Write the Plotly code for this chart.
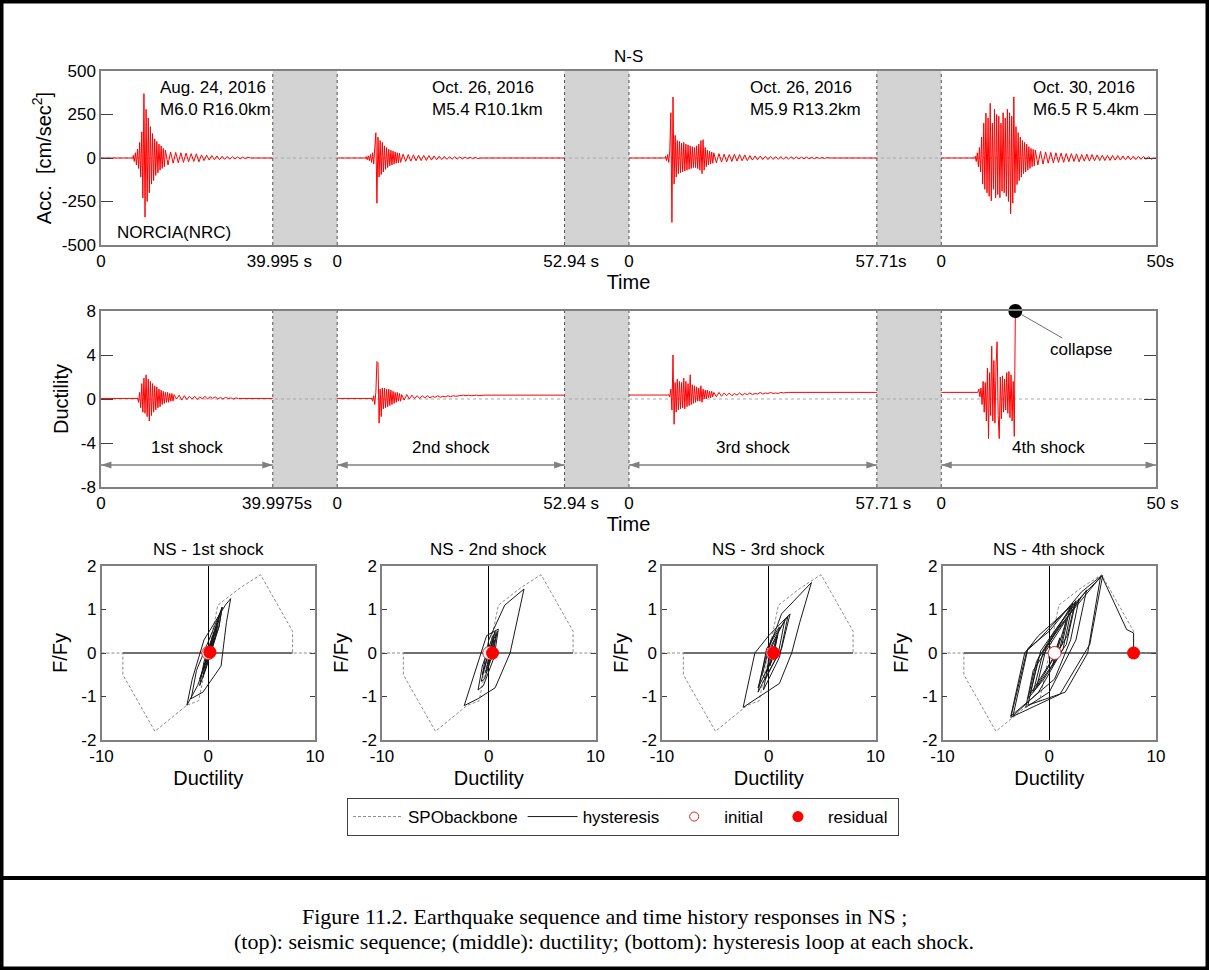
import plotly.graph_objects as go

W, H = 1209, 970
FONT = "Liberation Sans, Arial, Helvetica, sans-serif"
SERIF = "Liberation Serif, Times New Roman, serif"

# ======================= DATA =======================
# record lengths of the four shocks (s) and the blank gap drawn between them
seg_len_acc = [39.995, 52.94, 57.71, 50.0]
seg_len_duct = [39.9975, 52.94, 57.71, 50.0]
gap_s = 15.0
end_num_acc = ["39.995", "52.94", "57.71", "50"]
end_unit_acc = [" s", " s", "s", "s"]
end_num_duct = ["39.9975", "52.94", "57.71", "50"]
end_unit_duct = ["s", " s", " s", " s"]

event_dates = ["Aug. 24, 2016", "Oct. 26, 2016", "Oct. 26, 2016", "Oct. 30, 2016"]
event_info = ["M6.0 R16.0km", "M5.4 R10.1km", "M5.9 R13.2km", "M6.5 R 5.4km"]
event_label_t = [13.3, 21.6, 27.8, 21.0]
station_name = "NORCIA(NRC)"
shock_names = ["1st shock", "2nd shock", "3rd shock", "4th shock"]
hyst_titles = ["NS - 1st shock", "NS - 2nd shock", "NS - 3rd shock", "NS - 4th shock"]
legend_names = ["SPObackbone", "hysteresis", "initial", "residual"]

# ---- ground acceleration (cm/s^2): strong-motion extrema every 0.25 s, coda every 0.6 s
acc_onset = [7.5, 6.75, 8.5, 7.9]
acc_dt = 0.25
acc_tail_dt = 0.6
acc1 = [15, -20, 30, -40, 50, -60, 90, -110, 150, -230, 370, -340, 280, -250, 230, -200,
        180, -150, 140, -130, 110, -100, 95, -85, 80, -70, 70, -60, 55, -50, 45]
acc1_tail = [-40, 35, -30, 32, -28, 30, -25, 28, -22, 25, -20, 24, -22, 18, -15, 16, -12, 14,
             -10, 12, -10, 10, -8, 9, -7, 8, -6, 6, -5, 5, -4, 4]
acc2 = [8, -10, 12, -15, 20, -25, 30, -35, 60, 145, -260, 120, -110, 100, -95, 90, -80, 70,
        -65, 60, -55, 50, -45, 45, -40, 40, -35, 35, -30, 30, -28, 28, -25]
acc2_tail = [22, -20, 20, -18, 18, -16, 16, -15, 15, -14, 14, -12, 12, -10, 10, -9, 9, -8, 8,
             -7, 7, -6, 6, -5, 5, -4, 4, -4, 4, -3]
acc3 = [10, -15, 20, -25, 40, 260, -370, 350, -150, 130, -110, 100, -90, 95, -85, 85, -80, 90,
        -75, 80, -70, 75, -65, 70, -60, 65, -55, 60, -55, 70, -60, 80, -70, 100, -90, 105, -70,
        60, -50, 45, -40, 40, -35, 35, -30, 30]
acc3_tail = [-28, 25, -24, 22, -22, 20, -20, 22, -18, 20, -16, 18, -15, 14, -12, 12, -10, 11,
             -9, 10, -9, 9, -8, 8, -8, 8, -7, 7, -6, 7, -6, 6, -5, 5, -5, 5, -4, 4, -4, 4, -3, 3,
             -3, 3]
acc4 = [10, -20, 30, -50, 60, -80, 120, -150, 200, -180, 258, -200, 230, -220, 314, -246, 200,
        -180, 280, -230, 250, -210, 240, -228, 200, -190, 260, -200, 230, -220, 280, -250, 260,
        -321, 240, -260, 351, -200, 180, -153, 146, -130, 120, -110, 100, -90, 90, -80, 80, -70,
        65, -60, 55, -50, 50, -45, 45]
acc4_tail = [-40, 38, -35, 35, -30, 32, -28, 30, -25, 28, -25, 26, -22, 25, -20, 24, -22, 20,
             -18, 22, -18, 20, -16, 18, -15, 16, -15, 15, -14, 15, -12, 14, -12, 12, -10, 12,
             -10, 10, -9, 10, -8, 9, -8, 8, -7]

# ---- ductility response: extrema every 0.25 s, then slow drift every 0.6 s
duct_onset = [8.5, 8.0, 9.25, 8.5]
duct_initial = [0.05, 0.05, 0.36, 0.6]
duct_residual = [0.05, 0.35, 0.6, None]
duct1 = [0.1, -0.3, 0.6, -0.8, 1.4, -1.2, 1.9, -1.3, 2.2, -1.6, 1.8, -2.0, 1.6, -1.5, 1.4, -1.2,
         1.2, -1.0, 1.1, -0.8, 0.9, -0.7, 0.8, -0.5, 0.7, -0.4, 0.6, -0.3, 0.6, -0.3, 0.5, -0.2,
         0.5, -0.2, 0.4]
duct1_tail = [0.0, 0.35, -0.1, 0.3, -0.05, 0.25, 0.0, 0.25, -0.05, 0.2, 0.0, 0.25, 0.0, 0.2,
              0.05, 0.2, 0.0, 0.15, 0.0, 0.15, 0.05, 0.1, 0.0, 0.1]
duct2 = [0.1, -0.2, 0.3, -0.5, 0.6, 3.4, 3.3, -2.2, 0.9, -1.6, 1.0, -0.9, 1.0, -0.8, 0.9, -0.7,
         0.9, -0.6, 0.8, -0.5, 0.7, -0.4, 0.6, -0.3, 0.6, -0.2, 0.5, -0.2, 0.4]
duct2_tail = [-0.1, 0.4, 0.0, 0.35, 0.05, 0.3, 0.05, 0.3, 0.1, 0.3, 0.1, 0.25, 0.15, 0.3, 0.15,
              0.25, 0.2, 0.3, 0.2, 0.3, 0.25, 0.3, 0.3, 0.35, 0.3, 0.35, 0.3, 0.35, 0.35, 0.3,
              0.35]
duct3 = [0.4, 0.2, 0.9, -1.0, 4.0, -2.3, 1.5, -1.2, 1.8, -1.0, 1.6, -0.9, 1.5, -0.8, 1.9, -0.9,
         1.6, -0.7, 1.4, -0.6, 2.2, -0.5, 1.3, -0.4, 1.2, -0.3, 1.1, -0.2, 1.0, -0.2, 1.2, -0.3,
         0.9, 0.0, 0.8, 0.0, 0.8, 0.1, 0.7, 0.1, 0.7, 0.2, 0.6]
duct3_tail = [0.2, 0.6, 0.25, 0.55, 0.3, 0.55, 0.3, 0.5, 0.35, 0.55, 0.35, 0.5, 0.4, 0.55, 0.4,
              0.5, 0.45, 0.6, 0.45, 0.55, 0.5, 0.6, 0.5, 0.55, 0.5, 0.6, 0.55, 0.6]
duct4 = [0.6, 0.9, 0.2, 1.0, -0.5, 1.6, -1.2, 1.5, -2.0, 2.8, -3.6, 2.4, -1.5, 4.8, -2.0, 3.5,
         -2.2, 3.0, 5.2, -1.5, -3.6, 2.0, -1.8, 2.1, -1.2, 1.8, -1.0, 2.4, -1.3, 2.5, -1.7, 2.2,
         -2.0, 1.6, -3.4, 8.0]
collapse_t = 17.25
collapse_mu = 8.0
shock_arrow_mu = -6.0
shock_label_mu = -4.45

# ---- SPO backbone (ductility, F/Fy)
spo_mu = [-10, -8, -8, -5, -2, -0.9, 0, 0.9, 3, 4.9, 7.9, 7.9, 10]
spo_f = [0, 0, -0.5, -1.8, -1.2, -1.1, 0, 1.1, 1.5, 1.8, 0.5, 0, 0]

# ---- hysteresis paths (ductility, F/Fy)
hyst1_mu = [0, 0.5, -0.3, 0.8, -0.5, 1.1, 0.7, -0.8, 1.3, 1.0, -1.0, -2.0, -1.5, -0.4, 1.6, 2.1,
            1.7, 1.2, -0.5, -1.6, -1.1, 0.4, 1.3, 1.0, -0.2, -0.8, -0.4, 0.9, 0.6, -0.5, -0.2,
            0.7, 0.4, -0.3, 0.0, 0.5, 0.2, -0.1, 0.3, 0.15]
hyst1_f = [0, 0.35, -0.25, 0.6, -0.4, 0.9, 0.4, -0.6, 1.05, 0.6, -0.75, -1.2, -0.6, 0.3, 1.1,
           1.25, 0.7, -0.3, -0.9, -1.05, -0.4, 0.5, 1.05, 0.6, -0.35, -0.75, -0.2, 0.75, 0.3,
           -0.55, -0.1, 0.6, 0.2, -0.4, -0.05, 0.4, 0.05, -0.2, 0.2, 0.02]
hyst2_mu = [0.05, 0.4, -0.3, 0.6, -0.6, 0.0, 1.5, 3.3, 2.0, 0.6, -1.0, -2.3, -1.4, -0.2, 0.9,
            0.5, -0.5, -1.0, -0.6, 0.4, 0.8, 0.4, -0.4, -0.7, 0.0, 0.7, 0.3, -0.3, 0.0, 0.5,
            0.2, -0.1, 0.4, 0.35]
hyst2_f = [0.0, 0.3, -0.3, 0.5, -0.5, 0.3, 1.1, 1.47, 0.0, -0.8, -1.05, -1.21, -0.5, 0.4, 0.55,
           -0.1, -0.75, -0.85, -0.3, 0.4, 0.5, 0.0, -0.6, -0.65, 0.05, 0.45, -0.05, -0.45, -0.1,
           0.3, -0.1, -0.3, 0.15, 0.0]
hyst3_mu = [0.36, 0.8, 0.0, -1.0, -0.3, 1.2, 4.0, 2.9, 2.15, 1.0, -2.4, -1.3, 0.0, 2.0, 1.2,
            -0.6, -1.0, -0.2, 1.8, 1.0, -0.5, 0.3, 1.5, 0.9, -0.3, -0.6, 0.2, 1.0, 0.5, -0.2,
            0.2, 0.8, 0.4, 0.1, 0.5, 0.45]
hyst3_f = [0.0, 0.4, -0.3, -0.8, -0.1, 0.9, 1.62, 0.7, 0.0, -0.7, -1.25, 0.0, 0.4, 0.9, 0.1,
           -0.7, -0.9, 0.1, 0.85, -0.1, -0.85, 0.2, 0.75, 0.0, -0.6, -0.5, 0.3, 0.6, 0.0, -0.45,
           0.1, 0.4, -0.1, -0.3, 0.1, 0.0]
hyst4_mu = [0.5, 1.0, 0.3, 1.6, 0.8, -0.5, -2.0, -1.2, 0.5, 2.8, 2.0, 0.5, -3.6, -2.3, -1.0,
            2.4, 1.7, -1.5, -0.6, 0.6, 4.8, 3.6, 1.5, -2.0, -1.0, 3.5, 2.5, 0.0, -2.2, -1.5,
            3.0, 5.0, 3.8, 1.0, -3.6, -2.1, -1.0, 2.0, 1.2, -1.8, -0.8, 2.5, 1.6, -1.2, -0.3,
            2.2, 1.3, -1.0, -3.4, -2.0, 0.0, 3.0, 4.9, 7.25, 7.9, 7.9]
hyst4_f = [0.0, 0.35, -0.3, 0.75, -0.1, -0.6, -1.05, -0.2, 0.5, 1.25, 0.3, -0.6, -1.45, 0.0,
           0.4, 1.15, 0.4, -0.9, 0.0, 0.5, 1.75, 0.0, -0.9, -1.2, -0.1, 1.45, 0.3, -0.9, -1.25,
           -0.4, 1.3, 1.78, 0.2, -0.95, -1.48, 0.05, 0.3, 1.1, 0.2, -0.95, 0.05, 1.2, 0.2, -0.8,
           0.1, 1.15, 0.1, -0.9, -1.45, 0.1, 0.5, 1.4, 1.78, 0.54, 0.46, 0.0]
hyst_initial_mu = [0.0, 0.05, 0.36, 0.5]
hyst_initial_f = [0.0, 0.0, 0.0, 0.0]
hyst_residual_mu = [0.15, 0.35, 0.45, 7.9]
hyst_residual_f = [0.02, 0.0, 0.0, 0.0]

caption_1 = "Figure 11.2. Earthquake sequence and time history responses in NS ;"
caption_2 = "(top): seismic sequence; (middle): ductility; (bottom): hysteresis loop at each shock."

# ======================= LAYOUT GEOMETRY (pixels) =======================
PX_L, PX_R = 101, 1156
TOP_Y = (71, 245)
MID_Y = (311, 487)
HYS_Y = (566, 740)
HYS_LEFT = [101.5, 382, 662, 942.5]
HYS_W = 213.5
FRAME = "#808080"
RED = "#ff0000"
NB = "\u00a0"


def fx(p):
    return p / W


def fy(p):
    return 1 - p / H


def offsets(lengths):
    out, s = [], 0.0
    for L in lengths:
        out.append(s)
        s += L + gap_s
    return out


off_a = offsets(seg_len_acc)
off_d = offsets(seg_len_duct)
xmax_a = off_a[-1] + seg_len_acc[-1]
xmax_d = off_d[-1] + seg_len_duct[-1]


def build_series(onset, strong, tail, length, v0, v_end, dt, tail_dt):
    t = [0.0, onset]
    v = [v0, v0]
    for k, a in enumerate(strong):
        t.append(onset + k * dt)
        v.append(a)
    last = onset + (len(strong) - 1) * dt
    if tail is None:
        return t, v
    for k, a in enumerate(tail):
        t.append(last + (k + 1) * tail_dt)
        v.append(a)
    last = t[-1]
    t += [last + tail_dt, length]
    v += [v_end, v_end]
    return t, v


fig = go.Figure()

# ---------------- top: acceleration ----------------
acc_strong = [acc1, acc2, acc3, acc4]
acc_tails = [acc1_tail, acc2_tail, acc3_tail, acc4_tail]
for i in range(4):
    t, v = build_series(acc_onset[i], acc_strong[i], acc_tails[i], seg_len_acc[i],
                        0, 0, acc_dt, acc_tail_dt)
    fig.add_trace(go.Scatter(x=[off_a[i] + tt for tt in t], y=v, mode="lines",
                             line=dict(color=RED, width=1), xaxis="x", yaxis="y",
                             showlegend=False, hoverinfo="skip"))

# ---------------- middle: ductility ----------------
duct_strong = [duct1, duct2, duct3, duct4]
duct_tails = [duct1_tail, duct2_tail, duct3_tail, None]
for i in range(4):
    t, v = build_series(duct_onset[i], duct_strong[i], duct_tails[i], seg_len_duct[i],
                        duct_initial[i], duct_residual[i], acc_dt, acc_tail_dt)
    fig.add_trace(go.Scatter(x=[off_d[i] + tt for tt in t], y=v, mode="lines",
                             line=dict(color=RED, width=1), xaxis="x2", yaxis="y2",
                             showlegend=False, hoverinfo="skip"))
fig.add_trace(go.Scatter(x=[off_d[3] + collapse_t], y=[collapse_mu], mode="markers",
                         marker=dict(color="black", size=14), xaxis="x2", yaxis="y2",
                         cliponaxis=False, showlegend=False, hoverinfo="skip"))
# double-headed span arrows under each shock
for i in range(4):
    fig.add_trace(go.Scatter(x=[off_d[i], off_d[i] + seg_len_duct[i]],
                             y=[shock_arrow_mu, shock_arrow_mu], mode="lines+markers",
                             line=dict(color="#808080", width=1.5),
                             marker=dict(symbol="arrow", angle=[-90, 90], size=11,
                                         color="#808080"),
                             xaxis="x2", yaxis="y2", cliponaxis=False, showlegend=False,
                             hoverinfo="skip"))

# ---------------- bottom: hysteresis ----------------
hyst_mu = [hyst1_mu, hyst2_mu, hyst3_mu, hyst4_mu]
hyst_f = [hyst1_f, hyst2_f, hyst3_f, hyst4_f]
for k in range(4):
    xa, ya = f"x{k + 3}", f"y{k + 3}"
    fig.add_trace(go.Scatter(x=spo_mu, y=spo_f, mode="lines", name=legend_names[0],
                             legendgroup="spo", showlegend=(k == 0), legendrank=1,
                             line=dict(color="#8c8c8c", width=1, dash="3px,2px"),
                             xaxis=xa, yaxis=ya, hoverinfo="skip"))
    fig.add_trace(go.Scatter(x=hyst_mu[k], y=hyst_f[k], mode="lines", name=legend_names[1],
                             legendgroup="hys", showlegend=(k == 0), legendrank=2,
                             line=dict(color="#1a1a1a", width=1),
                             xaxis=xa, yaxis=ya, hoverinfo="skip"))
    fig.add_trace(go.Scatter(x=[hyst_initial_mu[k]], y=[hyst_initial_f[k]], mode="markers",
                             legendgroup="ini", showlegend=False,
                             marker=dict(color="white", size=13,
                                         line=dict(color="#e02020", width=1)),
                             xaxis=xa, yaxis=ya, hoverinfo="skip"))
    fig.add_trace(go.Scatter(x=[hyst_residual_mu[k]], y=[hyst_residual_f[k]], mode="markers",
                             legendgroup="res", showlegend=False,
                             marker=dict(color=RED, size=13),
                             xaxis=xa, yaxis=ya, cliponaxis=False, hoverinfo="skip"))
# legend entries for the two marker kinds (smaller symbols as in the legend box)
fig.add_trace(go.Scatter(x=[None], y=[None], mode="markers", name=legend_names[2],
                         legendgroup="ini", legendrank=3,
                         marker=dict(color="white", size=9, line=dict(color="#e02020", width=1)),
                         xaxis="x3", yaxis="y3"))
fig.add_trace(go.Scatter(x=[None], y=[None], mode="markers", name=legend_names[3] + NB,
                         legendgroup="res", legendrank=4, marker=dict(color=RED, size=11),
                         xaxis="x3", yaxis="y3"))


# ---------------- axes ----------------
def time_ticks(offs, lengths, nums, units):
    tv, tt = [], []
    for o, L, n, u in zip(offs, lengths, nums, units):
        u2 = u.replace(" ", NB)
        tv += [o, o + L]
        tt += ["0", f'<span style="color:rgba(0,0,0,0)">{u2}</span>{n}{u2}']
    return tv, tt


tv_a, tt_a = time_ticks(off_a, seg_len_acc, end_num_acc, end_unit_acc)
tv_d, tt_d = time_ticks(off_d, seg_len_duct, end_num_duct, end_unit_duct)

common_x = dict(showgrid=False, zeroline=False, showline=True, linecolor=FRAME, linewidth=1.5,
                mirror=True, ticks="", tickfont=dict(size=17), automargin=False)
common_y = dict(showgrid=False, zeroline=False, showline=True, linecolor=FRAME, linewidth=1.5,
                mirror="ticks", ticks="inside", tickcolor="#404040", tickfont=dict(size=17),
                automargin=False)

layout = dict(
    width=W, height=H, autosize=False,
    margin=dict(l=0, r=0, t=0, b=0, pad=0, autoexpand=False),
    paper_bgcolor="white", plot_bgcolor="white",
    font=dict(family=FONT, size=17, color="black"),
    xaxis=dict(domain=[fx(PX_L), fx(PX_R)], anchor="y", range=[0, xmax_a],
               tickvals=tv_a, ticktext=tt_a, title=dict(text="Time", standoff=2), **common_x),
    yaxis=dict(domain=[fy(TOP_Y[1]), fy(TOP_Y[0])], anchor="x", range=[-500, 500],
               tickvals=[-500, -250, 0, 250, 500],
               ticktext=["-500", "-250", "0", "250", "500"], ticklen=12,
               title=dict(text="Acc.  [cm/sec<sup>2</sup>]", standoff=5), **common_y),
    xaxis2=dict(domain=[fx(PX_L), fx(PX_R)], anchor="y2", range=[0, xmax_d],
                tickvals=tv_d, ticktext=tt_d, title=dict(text="Time", standoff=2), **common_x),
    yaxis2=dict(domain=[fy(MID_Y[1]), fy(MID_Y[0])], anchor="x2", range=[-8, 8],
                tickvals=[-8, -4, 0, 4, 8], ticktext=["-8", "-4", "0", "4", "8"], ticklen=12,
                title=dict(text="Ductility", standoff=7), **common_y),
    legend=dict(orientation="h", x=fx(623), xanchor="center", y=fy(798), yanchor="top",
                bordercolor="#404040", borderwidth=1, bgcolor="white",
                font=dict(size=17), itemwidth=50, traceorder="normal"),
)

for k in range(4):
    l = HYS_LEFT[k]
    hx = dict(common_x)
    hx.update(zeroline=True, zerolinecolor="black", zerolinewidth=1)
    layout[f"xaxis{k + 3}"] = dict(domain=[fx(l), fx(l + HYS_W)], anchor=f"y{k + 3}",
                                   range=[-10, 10], tickvals=[-10, 0, 10],
                                   ticktext=["-10", "0", "10"],
                                   title=dict(text="Ductility", standoff=6), **hx)
    layout[f"yaxis{k + 3}"] = dict(domain=[fy(HYS_Y[1]), fy(HYS_Y[0])], anchor=f"x{k + 3}",
                                   range=[-2, 2], tickvals=[-2, -1, 0, 1, 2],
                                   ticktext=["-2", "-1", "0", "1", "2"], ticklen=5,
                                   title=dict(text="F/Fy", standoff=8), **common_y)

fig.update_layout(**layout)

# ---------------- shapes ----------------
shapes = []
for xr, yr, offs, lens, xmax in (("x", "y", off_a, seg_len_acc, xmax_a),
                                 ("x2", "y2", off_d, seg_len_duct, xmax_d)):
    for i in range(3):
        shapes.append(dict(type="rect", xref=xr, yref=f"{yr} domain", x0=offs[i] + lens[i],
                           x1=offs[i + 1], y0=0, y1=1, fillcolor="#d3d3d3",
                           line=dict(width=0), layer="below"))
    shapes.append(dict(type="line", xref=xr, yref=yr, x0=0, x1=xmax, y0=0, y1=0,
                       line=dict(color="#a8a8a8", width=1, dash="dot"), layer="below"))
    for i in range(3):
        for xv in (offs[i] + lens[i], offs[i + 1]):
            shapes.append(dict(type="line", xref=xr, yref=f"{yr} domain", x0=xv, x1=xv,
                               y0=0, y1=1, line=dict(color="#505050", width=1, dash="dot")))
for k in range(4):
    xr, yr = f"x{k + 3}", f"y{k + 3}"
    x_hi = spo_mu[-3] if k < 3 else spo_mu[-1]
    shapes.append(dict(type="line", xref=xr, yref=yr, x0=spo_mu[1], x1=x_hi, y0=0, y1=0,
                       line=dict(color="#707070", width=2), layer="below"))
# page frame and caption separator
shapes.append(dict(type="rect", xref="paper", yref="paper", x0=0, x1=1, y0=0, y1=1,
                   line=dict(color="black", width=7)))
shapes.append(dict(type="line", xref="paper", yref="paper", x0=0, x1=1, y0=fy(878),
                   y1=fy(878), line=dict(color="black", width=4)))
fig.update_layout(shapes=shapes)

# ---------------- annotations ----------------
ann = []
ann.append(dict(text="N-S", xref="paper", yref="paper", x=fx((PX_L + PX_R) / 2), y=fy(56),
                xanchor="center", yanchor="middle", showarrow=False, font=dict(size=17)))
for i in range(4):
    ann.append(dict(text=f"{event_dates[i]}<br>{event_info[i]}", xref="x", yref="y",
                    x=off_a[i] + event_label_t[i], y=340, xanchor="left", yanchor="middle",
                    align="left", showarrow=False, font=dict(size=17)))
ann.append(dict(text=station_name, xref="x", yref="y", x=off_a[0] + 3.2, y=-428,
                xanchor="left", yanchor="middle", showarrow=False, font=dict(size=17)))
for i in range(4):
    ann.append(dict(text=shock_names[i], xref="x2", yref="y2",
                    x=off_d[i] + seg_len_duct[i] / 2, y=shock_label_mu, xanchor="center",
                    yanchor="middle", showarrow=False, font=dict(size=17)))
ann.append(dict(text="collapse", xref="x2", yref="y2", x=off_d[3] + collapse_t, y=collapse_mu,
                ax=66, ay=38, showarrow=True, arrowhead=0, arrowwidth=1,
                arrowcolor="#707070", standoff=7, font=dict(size=17)))
for k in range(4):
    ann.append(dict(text=hyst_titles[k], xref="paper", yref="paper",
                    x=fx(HYS_LEFT[k] + HYS_W / 2), y=fy(549), xanchor="center",
                    yanchor="middle", showarrow=False, font=dict(size=17)))
ann.append(dict(text=caption_1, xref="paper", yref="paper", x=fx(604), y=fy(916),
                xanchor="center", yanchor="middle", showarrow=False,
                font=dict(family=SERIF, size=22)))
ann.append(dict(text=caption_2, xref="paper", yref="paper", x=fx(604), y=fy(941),
                xanchor="center", yanchor="middle", showarrow=False,
                font=dict(family=SERIF, size=22)))
fig.update_layout(annotations=ann)

fig.write_html("out.html", config={"displayModeBar": False},
               post_script="document.body.style.margin='0';"
                           "document.body.style.overflow='hidden';")
